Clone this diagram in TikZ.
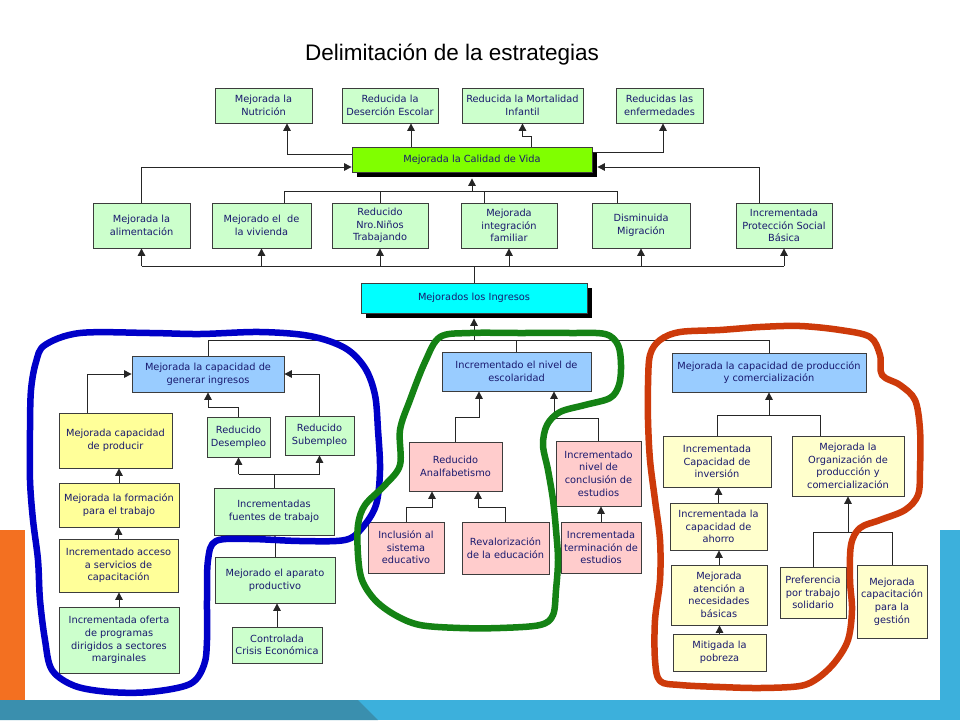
\documentclass[tikz,border=0pt]{standalone}
\usepackage{fontspec}
\setmainfont{DejaVu Sans}
\newfontfamily\titlefont{Liberation Sans}
\usetikzlibrary{arrows.meta,shadows}
\definecolor{navy}{RGB}{25,25,110}
\definecolor{boxline}{RGB}{60,60,60}
\definecolor{lgreen}{RGB}{204,255,204}
\definecolor{yelA}{RGB}{255,255,153}
\definecolor{yelB}{RGB}{255,255,204}
\definecolor{pinkbox}{RGB}{255,204,204}
\definecolor{lblue}{RGB}{153,204,255}
\definecolor{cyanbox}{RGB}{0,255,255}
\definecolor{limebox}{RGB}{128,255,0}
\definecolor{loopblue}{RGB}{0,0,200}
\definecolor{loopgreen}{RGB}{20,130,20}
\definecolor{loopred}{RGB}{205,58,10}
\definecolor{orangebar}{RGB}{243,112,33}
\definecolor{lightband}{RGB}{60,176,220}
\definecolor{darkband}{RGB}{58,143,174}
\tikzset{
  bx/.style={draw=boxline, line width=0.8pt, text=navy, align=center, inner sep=1pt,
    font=\fontsize{9.8}{12.6}\selectfont},
  gbox/.style={bx, fill=lgreen},
  yabox/.style={bx, fill=yelA},
  ybbox/.style={bx, fill=yelB},
  pbox/.style={bx, fill=pinkbox},
  bbox/.style={bx, fill=lblue},
  shadowed/.style={drop shadow={shadow xshift=5pt, shadow yshift=-5pt, fill=black, opacity=1}},
  ln/.style={draw=black!85, line width=1pt},
  arr/.style={draw=black!85, line width=1pt, -{Triangle[width=7.5pt,length=7.5pt]}},
  handloop/.style={line width=6.5pt, line join=round, line cap=round},
}
\begin{document}
\begin{tikzpicture}[x=1pt,y=-1pt]
\useasboundingbox (0,0) rectangle (960,720);
% background
\fill[white] (0,0) rectangle (960,720);
\fill[orangebar] (0,530) rectangle (25,700);
\fill[lightband] (940,530) rectangle (960,700);
\fill[lightband] (0,700) rectangle (960,720);
\fill[darkband] (0,700) -- (358,700) -- (378,720) -- (0,720) -- cycle;

\node[font=\titlefont\fontsize{22.5}{26}\selectfont] (title) at (452,55) {Delimitación de la estrategias};

% top row
\node[gbox, minimum width=97, minimum height=35] (n1) at (263.5,105.5) {Mejorada la\\Nutrición};
\node[gbox, minimum width=96, minimum height=35] (n2) at (390,105.5) {Reducida la\\Deserción Escolar};
\node[gbox, minimum width=121, minimum height=35] (n3) at (522.5,105.5) {Reducida la Mortalidad\\Infantil};
\node[gbox, minimum width=87, minimum height=35] (n4) at (659.5,105.5) {Reducidas las\\enfermedades};

% main box
\node[bx, fill=limebox, shadowed, minimum width=240, minimum height=25] (mc) at (472,159.5) {Mejorada la Calidad de Vida};

% second row
\node[gbox, minimum width=97, minimum height=45] (r1) at (141.5,225.5) {Mejorada la\\alimentación};
\node[gbox, minimum width=99, minimum height=45] (r2) at (261.5,225.5) {Mejorado el\ \ de\\la vivienda};
\node[gbox, minimum width=96, minimum height=45] (r3) at (380,225.5) {Reducido\\Nro.Niños\\Trabajando};
\node[gbox, minimum width=96, minimum height=45] (r4) at (509,225.5) {Mejorada\\integración\\familiar};
\node[gbox, minimum width=98, minimum height=45] (r5) at (641,225.5) {Disminuida\\Migración};
\node[gbox, minimum width=96, minimum height=45] (r6) at (784,225.5) {Incrementada\\Protección Social\\Básica};

% ingresos
\node[bx, fill=cyanbox, shadowed, minimum width=226, minimum height=30] (ing) at (474,298) {Mejorados los Ingresos};

% third level
\node[bbox, minimum width=152, minimum height=36] (b1) at (208,374) {Mejorada la capacidad de\\generar ingresos};
\node[bbox, minimum width=149, minimum height=39] (b2) at (516.5,371.5) {Incrementado el nivel de\\escolaridad};
\node[bbox, minimum width=194, minimum height=39] (b3) at (769,372.5) {Mejorada la capacidad de producción\\y comercialización};

% left cluster
\node[yabox, minimum width=113, minimum height=55] (y1) at (115.5,440.5) {Mejorada capacidad\\de producir};
\node[gbox, minimum width=63, minimum height=40] (g1) at (238.5,437) {Reducido\\Desempleo};
\node[gbox, minimum width=69, minimum height=39] (g2) at (319.5,435.5) {Reducido\\Subempleo};
\node[yabox, minimum width=120, minimum height=44] (y2) at (119,505) {Mejorada la formación\\para el trabajo};
\node[gbox, minimum width=120, minimum height=47] (g3) at (274,511.5) {Incrementadas\\fuentes de trabajo};
\node[yabox, minimum width=119, minimum height=53] (y3) at (118.5,565.5) {Incrementado acceso\\a servicios de\\capacitación};
\node[gbox, minimum width=120, minimum height=66] (g4) at (119,640) {Incrementada oferta\\de programas\\dirigidos a sectores\\marginales};
\node[gbox, minimum width=120, minimum height=46] (g5) at (275,580) {Mejorado el aparato\\productivo};
\node[gbox, minimum width=90, minimum height=36] (g6) at (277,645) {Controlada\\Crisis Económica};

% center cluster
\node[pbox, minimum width=93, minimum height=49] (p1) at (455.5,466.5) {Reducido\\Analfabetismo};
\node[pbox, minimum width=85, minimum height=65] (p2) at (598.5,473.5) {Incrementado\\nivel de\\conclusión de\\estudios};
\node[pbox, minimum width=76, minimum height=51] (p3) at (406,547.5) {Inclusión al\\sistema\\educativo};
\node[pbox, minimum width=87, minimum height=52] (p4) at (505.5,548) {Revalorización\\de la educación};
\node[pbox, minimum width=80, minimum height=51] (p5) at (601,547.5) {Incrementada\\terminación de\\estudios};

% right cluster
\node[ybbox, minimum width=108, minimum height=51] (q1) at (717,461.5) {Incrementada\\Capacidad de\\inversión};
\node[ybbox, minimum width=112, minimum height=60] (q2) at (848,466) {Mejorada la\\Organización de\\producción y\\comercialización};
\node[ybbox, minimum width=97, minimum height=47] (q3) at (718.5,526.5) {Incrementada la\\capacidad de\\ahorro};
\node[ybbox, minimum width=96, minimum height=60] (q4) at (719,595) {Mejorada\\atención a\\necesidades\\básicas};
\node[ybbox, minimum width=93, minimum height=37] (q5) at (719.5,652.5) {Mitigada la\\pobreza};
\node[ybbox, minimum width=66, minimum height=51] (q6) at (813,592.5) {Preferencia\\por trabajo\\solidario};
\node[ybbox, minimum width=70, minimum height=73] (q7) at (892,601.5) {Mejorada\\capacitación\\para la\\gestión};

% ---- connectors: top
\draw[arr] (mc.west |- 0,154) -| (287,0 |- n1.south);
\draw[arr] (411,0 |- mc.north) -- (411,0 |- n2.south);
\draw[arr] (531,0 |- mc.north) -- (531,136) -| (n3.south);
\draw[arr] (mc.east |- 0,152) -| (663,0 |- n4.south);
\draw[arr] (r1.north) |- ([yshift=-7.5]mc.west);
\draw[arr] (759,0 |- r6.north) |- ([xshift=5,yshift=-7.5]mc.east);
% collector above row 2
\draw[ln] (284,0 |- r2.north) |- (617,191) -- (617,0 |- r5.north);
\draw[ln] (r3.north) -- (r3.north |- 0,191);
\draw[ln] (484,0 |- r4.north) -- (484,191);
\draw[arr] (mc.south |- 0,191) -- ([yshift=-6]mc.south);
% collector below row 2
\draw[ln] (r1.south |- 0,266) -- (r6.south |- 0,266);
\draw[ln] (ing.north) -- (ing.north |- 0,266);
\foreach \r in {r1,r2,r3,r4,r5,r6} \draw[arr] (\r.south |- 0,266) -- (\r.south);
% under ingresos
\draw[ln] (b1.north) |- (b3.north |- 0,340) -- (b3.north);
\draw[ln] (b2.north) -- (b2.north |- 0,340);
\draw[arr] (ing.south |- 0,340) -- ([yshift=-5]ing.south);
% left cluster
\draw[arr] (87,0 |- y1.north) |- (b1.west);
\draw[arr] (g2.north) |- (b1.east);
\draw[arr] (g1.north) |- (b1.south |- 0,407) -- (b1.south);
\draw[arr] (y2.north) -- (y2.north |- y1.south);
\draw[arr] (y3.north) -- (y3.north |- y2.south);
\draw[arr] (g4.north) -- (g4.north |- y3.south);
\draw[ln] (g3.north) -- (g3.north |- 0,474);
\draw[ln] (g1.south |- 0,474) -- (g2.south |- 0,474);
\draw[arr] (g1.south |- 0,474) -- (g1.south);
\draw[arr] (g2.south |- 0,474) -- (g2.south);
\draw[arr] (g5.north) -- (g5.north |- g3.south);
\draw[arr] (g6.north) -- (g6.north |- g5.south);
% center cluster
\draw[arr] (p1.north) |- (479,417) -- (479,0 |- b2.south);
\draw[arr] (p2.north) |- (554,418) -- (554,0 |- b2.south);
\draw[arr] (p3.north) |- (432,507) -- (432,0 |- p1.south);
\draw[arr] (p4.north) |- (478,507) -- (478,0 |- p1.south);
\draw[arr] (p5.north) -- (p5.north |- p2.south);
% right cluster
\draw[ln] (q1.north) -- (q1.north |- 0,415) -- (820,415) -- (820,0 |- q2.north);
\draw[arr] (b3.south |- 0,415) -- (b3.south);
\draw[arr] (q3.north) -- (q3.north |- q1.south);
\draw[arr] (q4.north) -- (q4.north |- q3.south);
\draw[arr] (q5.north) -- (q5.north |- q4.south);
\draw[ln] (q6.north) |- (q7.north |- 0,532) -- (q7.north);
\draw[arr] (q2.south |- 0,532) -- (q2.south);

% ---- hand drawn loops
\draw[handloop, loopblue] plot[smooth cycle, tension=0.55] coordinates {
 (45,345) (80,333) (150,333) (200,334) (260,332) (310,336) (345,348) (365,368)
 (375,395) (378,430) (380,470) (376,505) (362,528) (345,540) (300,541) (250,539)
 (216,541) (208,560) (207,600) (207,640) (204,665) (190,684) (150,692) (110,692)
 (75,686) (52,670) (45,640) (40,600) (38,560) (33,520) (30,480) (30,430) (31,390) (36,362)};
\draw[handloop, loopgreen] plot[smooth cycle, tension=0.55] coordinates {
 (440,337) (470,333) (520,333) (570,333) (605,334) (618,345) (621,365) (619,385)
 (610,398) (585,405) (560,412) (547,425) (543,445) (548,470) (553,500) (556,530)
 (558,560) (556,590) (553,615) (540,625) (500,628) (460,628) (420,625) (395,615)
 (375,600) (362,580) (358,555) (358,525) (365,505) (385,485) (400,465) (400,430)
 (410,400) (425,362)};
\draw[handloop, loopred] plot[smooth cycle, tension=0.55] coordinates {
 (650,355) (660,340) (680,332) (720,330) (760,327) (800,326) (840,330) (870,337)
 (880,355) (882,375) (900,385) (915,400) (920,430) (920,470) (918,495) (905,510)
 (880,520) (860,528) (851,545) (850,580) (852,610) (848,640) (835,662) (818,678)
 (800,686) (760,688) (720,687) (680,685) (660,681) (655,660) (655,620) (660,580)
 (660,540) (655,500) (650,460) (648,420) (648,385)};
\end{tikzpicture}
\end{document}
